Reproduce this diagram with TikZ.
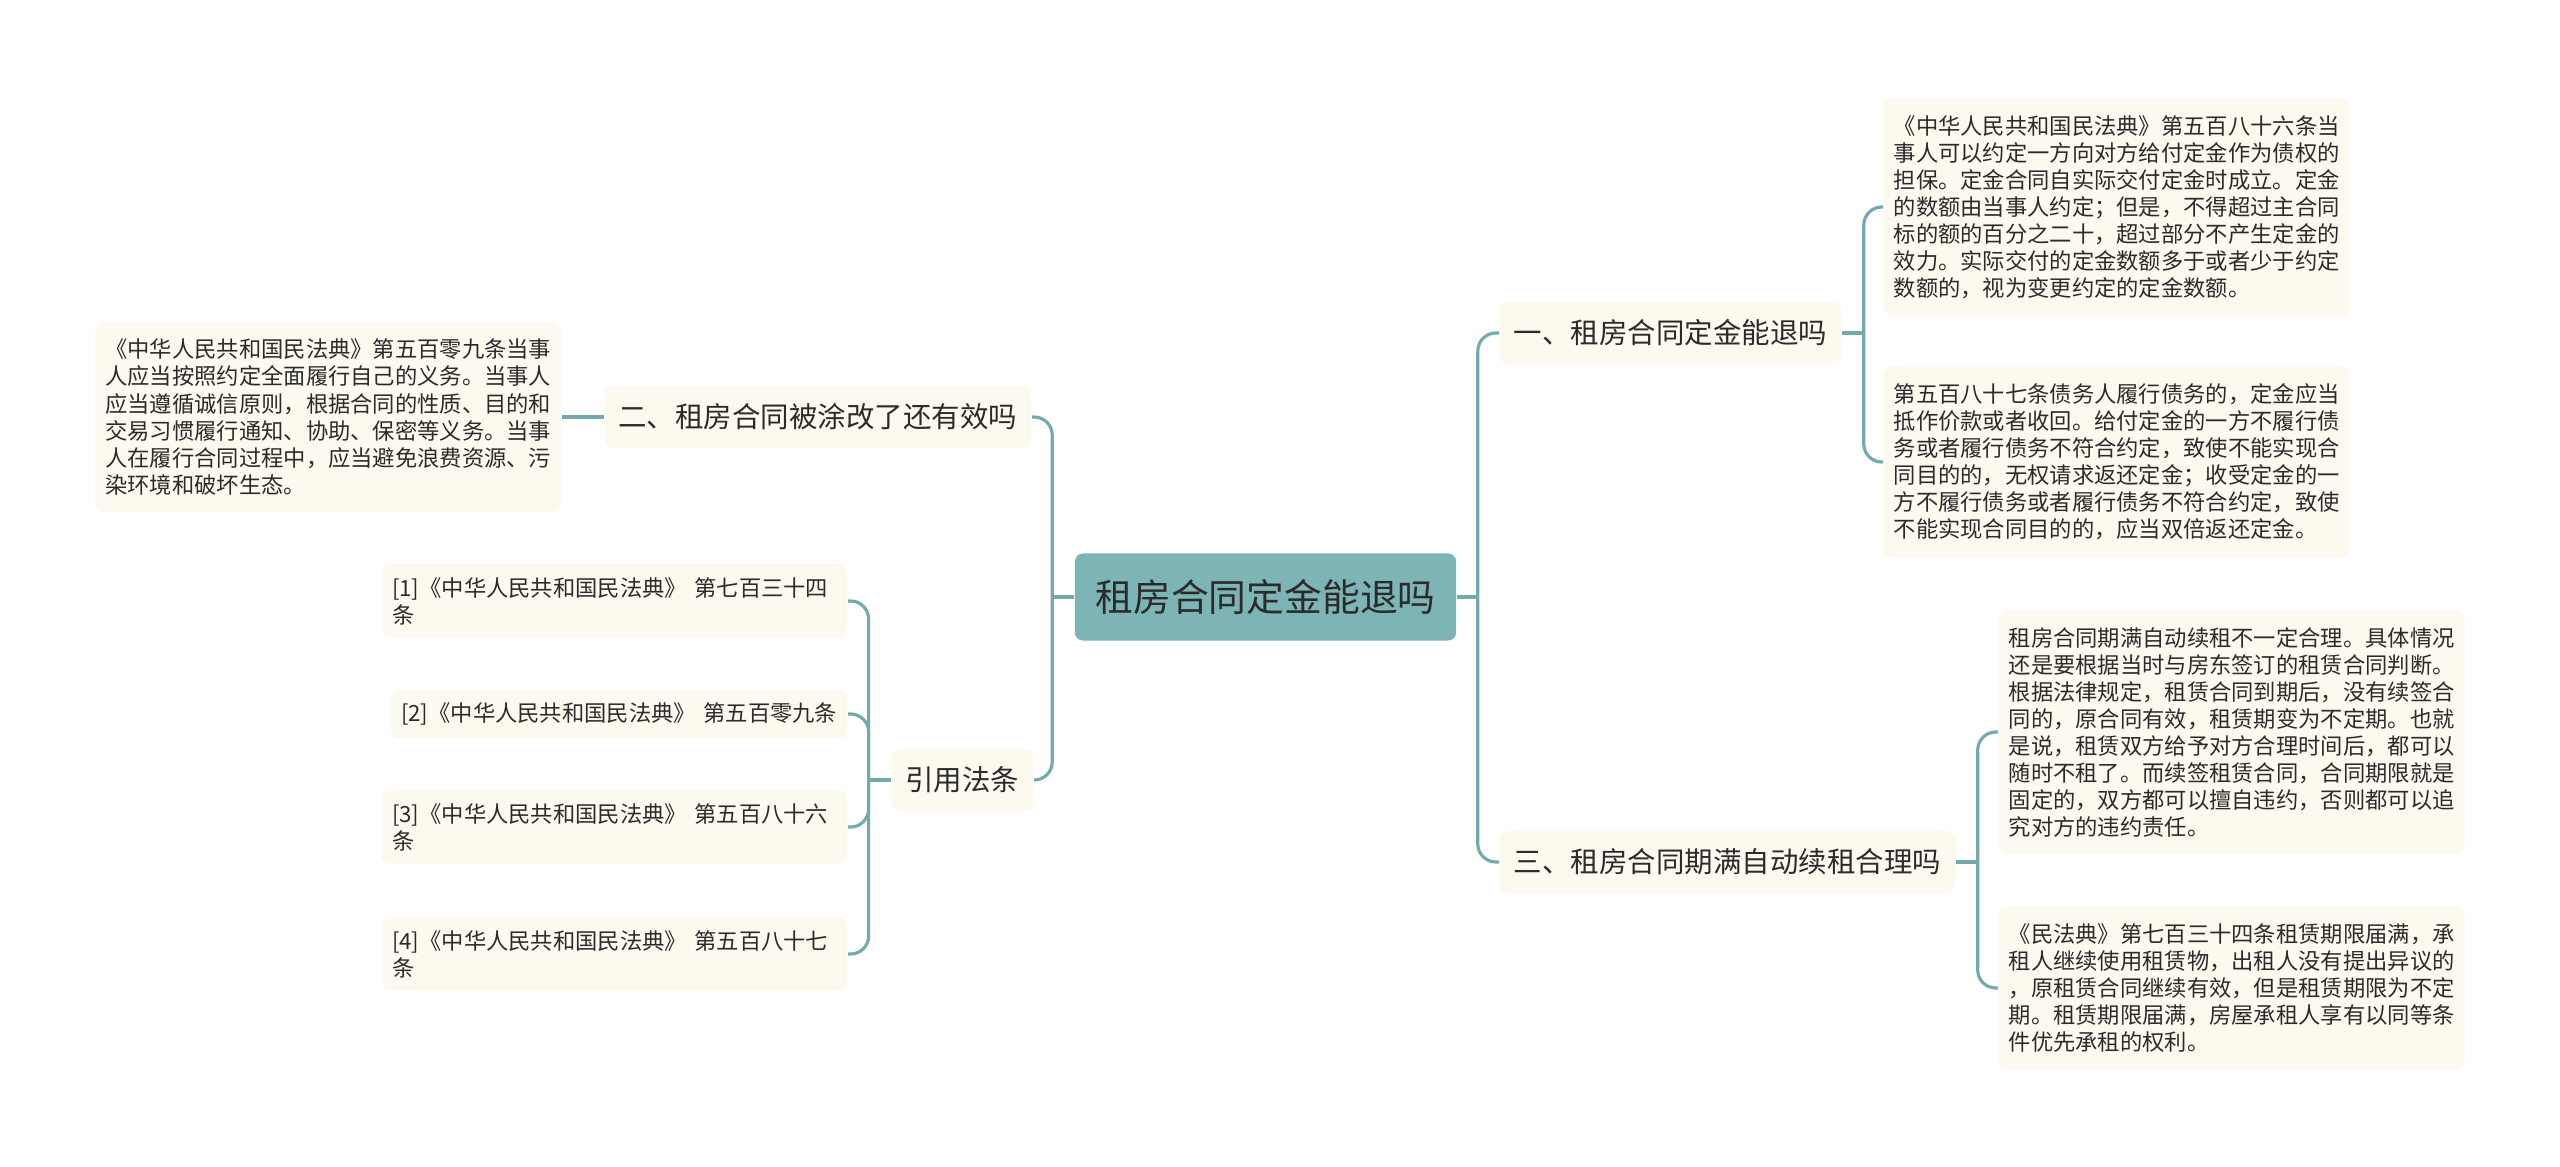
\documentclass[tikz,border=0pt]{standalone}
\usepackage{fontspec}
\setmainfont{Noto Sans CJK SC}
\definecolor{linkc}{HTML}{74AAAD}
\definecolor{rootc}{HTML}{7DB4B5}
\definecolor{creamc}{HTML}{FCF9EF}
\definecolor{inkc}{HTML}{2B2B2B}
\begin{document}
\begin{tikzpicture}[x = 0.01cm, y = -0.01cm,
    link/.style = {draw = linkc, line width = 0.9pt, rounded corners = 0.18cm},
    rootbox/.style = {fill = rootc, rounded corners = 0.08cm, text = inkc,
      font = \fontsize{10.75}{13}\selectfont, minimum width = 3.81cm, minimum height = 0.87cm},
    branch/.style = {fill = creamc, rounded corners = 0.08cm, text = inkc,
      font = \fontsize{8.1}{10}\selectfont, inner xsep = 0.14cm, minimum height = 0.62cm},
    leaf/.style = {fill = creamc, rounded corners = 0.08cm, text = inkc,
      font = \fontsize{6.34}{7.68}\selectfont, align = left, inner xsep = 0.1cm, inner ysep = 0.17cm},
    cite/.style = {leaf, inner ysep = 0.13cm, text width = 4.45cm}]
  \useasboundingbox (0, 0) rectangle (2560, 1167);

  \node[rootbox] (root) at (1265.5, 597) {租房合同定金能退吗};

  \node[branch, anchor = west] (q1) at (1499, 333) {一、租房合同定金能退吗};
  \node[branch, anchor = west] (q3) at (1499, 862) {三、租房合同期满自动续租合理吗};
  \node[branch, anchor = east] (q2) at (1032, 417) {二、租房合同被涂改了还有效吗};
  \node[branch, anchor = east] (refs) at (1034, 780) {引用法条};

  \node[leaf, anchor = west] (a1) at (1883, 207) {《中华人民共和国民法典》第五百八十六条当\\事人可以约定一方向对方给付定金作为债权的\\担保。定金合同自实际交付定金时成立。定金\\的数额由当事人约定；但是，不得超过主合同\\标的额的百分之二十，超过部分不产生定金的\\效力。实际交付的定金数额多于或者少于约定\\数额的，视为变更约定的定金数额。};
  \node[leaf, anchor = west] (a2) at (1883, 462) {第五百八十七条债务人履行债务的，定金应当\\抵作价款或者收回。给付定金的一方不履行债\\务或者履行债务不符合约定，致使不能实现合\\同目的的，无权请求返还定金；收受定金的一\\方不履行债务或者履行债务不符合约定，致使\\不能实现合同目的的，应当双倍返还定金。};
  \node[leaf, anchor = west] (a3) at (1998, 732) {租房合同期满自动续租不一定合理。具体情况\\还是要根据当时与房东签订的租赁合同判断。\\根据法律规定，租赁合同到期后，没有续签合\\同的，原合同有效，租赁期变为不定期。也就\\是说，租赁双方给予对方合理时间后，都可以\\随时不租了。而续签租赁合同，合同期限就是\\固定的，双方都可以擅自违约，否则都可以追\\究对方的违约责任。};
  \node[leaf, anchor = west] (a4) at (1998, 988) {《民法典》第七百三十四条租赁期限届满，承\\租人继续使用租赁物，出租人没有提出异议的\\，原租赁合同继续有效，但是租赁期限为不定\\期。租赁期限届满，房屋承租人享有以同等条\\件优先承租的权利。};
  \node[leaf, anchor = east] (a5) at (562, 417) {《中华人民共和国民法典》第五百零九条当事\\人应当按照约定全面履行自己的义务。当事人\\应当遵循诚信原则，根据合同的性质、目的和\\交易习惯履行通知、协助、保密等义务。当事\\人在履行合同过程中，应当避免浪费资源、污\\染环境和破坏生态。};

  \node[cite, anchor = east] (r1) at (848, 601) {[1]《中华人民共和国民法典》 第七百三十四\\条};
  \node[cite, anchor = east, text width = 4.36cm] (r2) at (848, 714) {[2]《中华人民共和国民法典》 第五百零九条};
  \node[cite, anchor = east] (r3) at (848, 827) {[3]《中华人民共和国民法典》 第五百八十六\\条};
  \node[cite, anchor = east] (r4) at (848, 954) {[4]《中华人民共和国民法典》 第五百八十七\\条};

  \draw[link] (root.east) -- ++(21, 0) coordinate (rj);
  \draw[link] (rj) |- (q1.west);
  \draw[link] (rj) |- (q3.west);
  \draw[link] (root.west) -- ++(-22, 0) coordinate (lj);
  \draw[link] (lj) |- (q2.east);
  \draw[link] (lj) |- (refs.east);

  \draw[link] (q1.east) -- ++(22, 0) coordinate (q1j);
  \draw[link] (q1j) |- (a1.west);
  \draw[link] (q1j) |- (a2.west);
  \draw[link] (q3.east) -- ++(22, 0) coordinate (q3j);
  \draw[link] (q3j) |- (a3.west);
  \draw[link] (q3j) |- (a4.west);
  \draw[link] (q2.west) -- (a5.east);
  \draw[link] (refs.west) -- ++(-22, 0) coordinate (fj);
  \foreach \r in {r1, r2, r3, r4}
    \draw[link] (fj) |- (\r.east);
\end{tikzpicture}
\end{document}
